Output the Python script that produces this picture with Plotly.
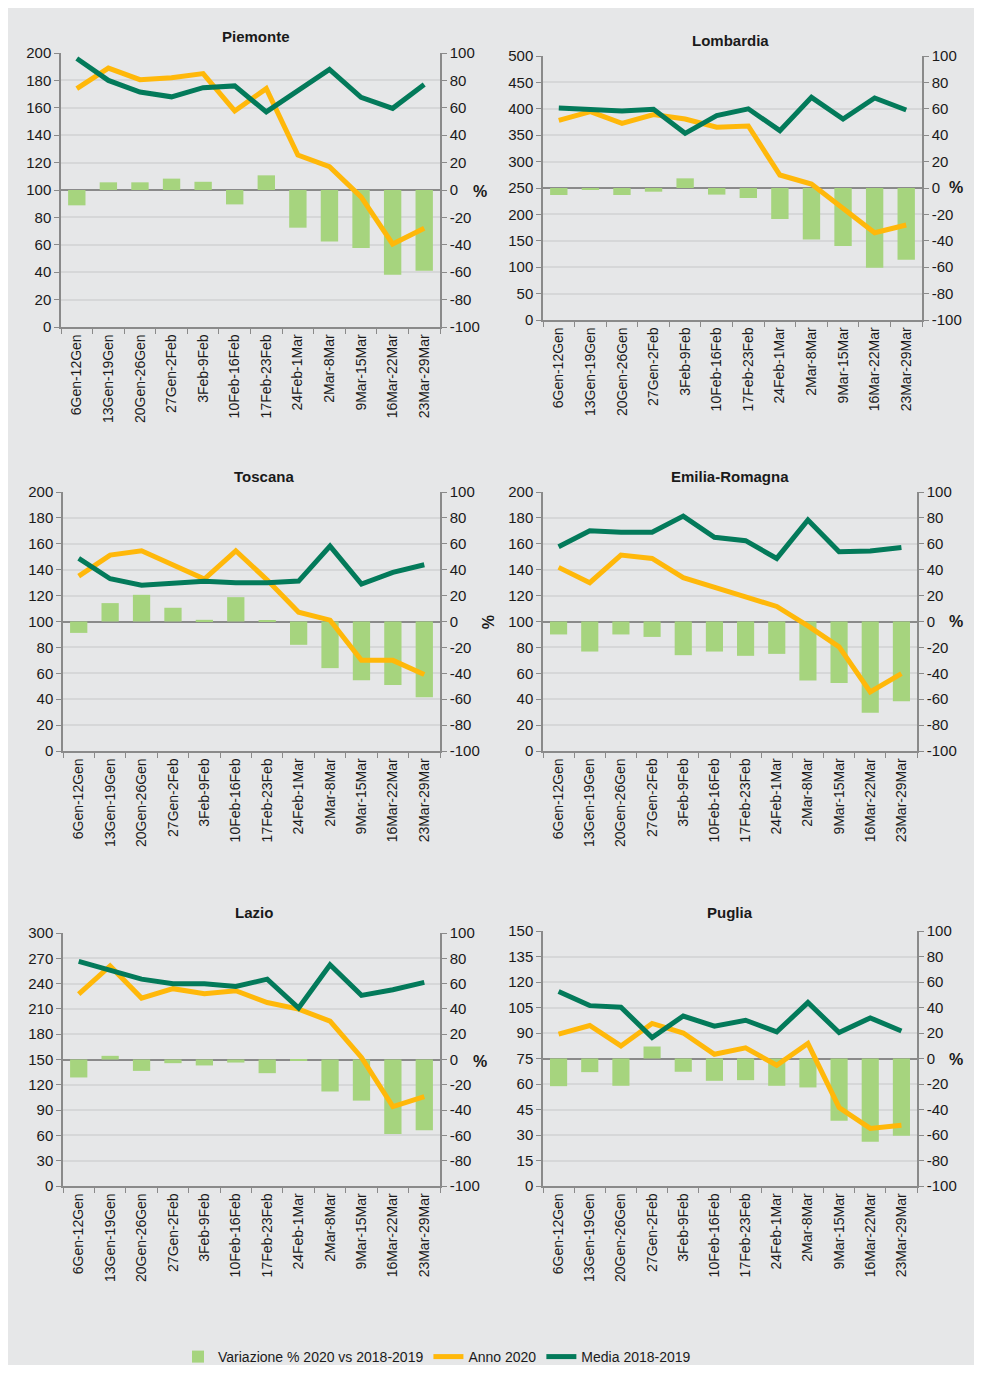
import plotly.graph_objects as go

categories = ["6Gen-12Gen", "13Gen-19Gen", "20Gen-26Gen", "27Gen-2Feb", "3Feb-9Feb",
              "10Feb-16Feb", "17Feb-23Feb", "24Feb-1Mar", "2Mar-8Mar", "9Mar-15Mar",
              "16Mar-22Mar", "23Mar-29Mar"]

regions = ["Piemonte", "Lombardia", "Toscana", "Emilia-Romagna", "Lazio", "Puglia"]

pct_ticks = [-100, -80, -60, -40, -20, 0, 20, 40, 60, 80, 100]
pct_labels = ["-100", "-80", "-60", "-40", "-20", "0", "20", "40", "60", "80", "100"]

piemonte_2020 = [174, 189, 180.5, 182, 185, 157.7, 174, 125.5, 117, 95, 60.6, 72]
piemonte_media = [196, 180, 171.5, 168, 174.7, 176, 157, 173, 188, 167.6, 159.6, 177]
piemonte_var = [-11.2, 5.6, 5.6, 8.3, 6, -10.5, 10.7, -27.5, -37.5, -42.3, -61.8, -59]

lombardia_2020 = [378, 394.6, 372.5, 389, 380.7, 365, 367.4, 274.6, 257.6, 211.5, 165.4, 180]
lombardia_media = [401.5, 399.6, 395.8, 399, 353.5, 387, 400, 358.6, 421.7, 380.7, 420.5, 397.7]
lombardia_var = [-5.3, -1.2, -5.3, -2.8, 7.3, -5, -7.6, -23.5, -39, -44, -60.4, -54.3]

toscana_2020 = [135, 151.3, 154.6, 143.6, 132.7, 154.6, 132, 107.2, 101, 70, 70, 59]
toscana_media = [148.7, 133, 128, 129.6, 131, 130, 130, 131.2, 158.2, 128.9, 137.9, 143.8]
toscana_var = [-8.8, 14.2, 20.6, 10.6, 1.3, 18.8, 0.5, -18, -36, -45.4, -49, -58.5]

emilia_2020 = [141.8, 130, 151.3, 148.7, 133.8, 126.8, 119, 111.6, 96.6, 80.4, 45.6, 59.8]
emilia_media = [157.7, 170, 169, 169, 181.4, 165, 162.4, 148.7, 178.4, 153.9, 154.4, 157.2]
emilia_var = [-10, -23.2, -10, -11.9, -26, -23.2, -26.5, -25, -45.6, -47.4, -70.4, -61.6]

lazio_2020 = [227.5, 261, 222.8, 234, 228, 231.5, 217.6, 209.7, 195.5, 152.4, 94.2, 106]
lazio_media = [266.3, 255.6, 245.3, 239.8, 239.8, 236.6, 245.3, 211, 262.4, 226, 232.7, 241.4]
lazio_var = [-14.2, 2.9, -9, -2.9, -4.7, -2.4, -10.8, -0.6, -25.3, -32.5, -58.8, -56]

puglia_2020 = [89.3, 94.4, 82.4, 95.6, 90, 77.5, 81.3, 71, 83.8, 46.2, 33.9, 35.8]
puglia_media = [114.4, 106.1, 105.2, 87.3, 100, 94, 97.5, 90.7, 107.9, 90.3, 98.9, 91.2]
puglia_var = [-21.7, -10.7, -21.4, 9.4, -10.4, -17.5, -17, -21.4, -22.7, -48.8, -65.3, -60.6]

anno_2020 = [piemonte_2020, lombardia_2020, toscana_2020, emilia_2020, lazio_2020, puglia_2020]
media = [piemonte_media, lombardia_media, toscana_media, emilia_media, lazio_media, puglia_media]
variazione = [piemonte_var, lombardia_var, toscana_var, emilia_var, lazio_var, puglia_var]
left_max = [200, 500, 200, 200, 300, 150]

# the page body has an 8px margin, so the figure is 16px smaller than the window
OFF = 8
W, H = 966, 1357


def fx(px):
    return (px - OFF) / W


def fy(py):
    return 1 - (py - OFF) / H


# plot boxes in screen pixels: x0, x1, ytop, ybottom
boxes = [
    (61, 440, 53, 327),
    (543, 922, 56, 320),
    (63, 440, 492, 751),
    (543, 917, 492, 751),
    (63, 440, 933, 1186),
    (543, 917, 931, 1186),
]
titles_pos = [(256, 37), (730, 40), (264, 476), (730, 476), (254, 912), (730, 912)]
pct_pos = [(480, 191, 0), (956, 188, 0), (487, 622, 90), (956, 622, 0), (480, 1061, 0), (956, 1059, 0)]

BAR = "#a6d47e"
YEL = "#ffb80a"
DKG = "#037a5a"
AXC = "#8a8a8a"
GRID = "#d6d7d8"
BG = "#e6e7e8"
TXT = "#1a1a1a"
FONT = "Liberation Sans, Arial, sans-serif"

fig = go.Figure()
layout = {}
annotations = []

for i in range(6):
    n = i + 1
    xs = "" if n == 1 else str(n)
    ya = "" if n == 1 else str(2 * n - 1)
    yb = str(2 * n)
    x0, x1, yt, ybm = boxes[i]

    fig.add_trace(go.Bar(
        x=categories, y=variazione[i], name="Variazione % 2020 vs 2018-2019",
        marker_color=BAR, marker_line_width=0, width=0.55,
        xaxis="x" + xs, yaxis="y" + ya, showlegend=(i == 0), legendgroup="v",
    ))
    fig.add_trace(go.Scatter(
        x=categories, y=anno_2020[i], name="Anno 2020", mode="lines",
        line=dict(color=YEL, width=5),
        xaxis="x" + xs, yaxis="y" + yb, showlegend=(i == 0), legendgroup="a",
    ))
    fig.add_trace(go.Scatter(
        x=categories, y=media[i], name="Media 2018-2019", mode="lines",
        line=dict(color=DKG, width=5),
        xaxis="x" + xs, yaxis="y" + yb, showlegend=(i == 0), legendgroup="m",
    ))

    layout["xaxis" + xs] = dict(
        domain=[fx(x0), fx(x1)], anchor="y" + ya, type="category",
        range=[-0.5, 11.5], tickson="boundaries", ticks="outside", ticklen=5,
        tickcolor=AXC, showline=True, linecolor=AXC, linewidth=1.5,
        tickangle=-90, tickfont=dict(size=14, color=TXT), showgrid=False,
    )
    layout["yaxis" + ya] = dict(
        domain=[fy(ybm), fy(yt)], anchor="x" + xs, side="right",
        range=[-100, 100], tickvals=pct_ticks, ticktext=pct_labels,
        showgrid=True, gridcolor=GRID, gridwidth=1.5,
        zeroline=True, zerolinecolor=AXC, zerolinewidth=1.5,
        showline=True, linecolor=AXC, linewidth=1.5, ticks="outside", ticklen=5,
        tickcolor=AXC, tickfont=dict(size=15, color=TXT),
    )
    layout["yaxis" + yb] = dict(
        overlaying="y" + ya, anchor="x" + xs, side="left",
        range=[0, left_max[i]], dtick=left_max[i] / 10, showgrid=False, zeroline=False,
        showline=True, linecolor=AXC, linewidth=1.5, ticks="outside", ticklen=5,
        tickcolor=AXC, tickfont=dict(size=15, color=TXT),
    )

    tx, ty = titles_pos[i]
    annotations.append(dict(
        text="<b>" + regions[i] + "</b>", x=fx(tx), y=fy(ty), xref="paper", yref="paper",
        showarrow=False, font=dict(size=15, color=TXT), xanchor="center", yanchor="middle",
    ))
    px_, py_, ang = pct_pos[i]
    annotations.append(dict(
        text="<b>%</b>", x=fx(px_), y=fy(py_), xref="paper", yref="paper",
        showarrow=False, font=dict(size=16, color=TXT), xanchor="center", yanchor="middle",
        textangle=ang,
    ))

fig.update_layout(
    width=W, height=H,
    margin=dict(l=0, r=0, t=0, b=0, autoexpand=False),
    paper_bgcolor=BG, plot_bgcolor=BG,
    font=dict(family=FONT, color=TXT),
    barmode="overlay",
    showlegend=True,
    legend=dict(
        orientation="h", x=fx(178), y=fy(1357), xanchor="left", yanchor="middle",
        font=dict(size=14, color=TXT), bgcolor="rgba(0,0,0,0)", itemwidth=30,
        traceorder="normal",
    ),
    annotations=annotations,
    **layout,
)

fig.write_html("out.html")
